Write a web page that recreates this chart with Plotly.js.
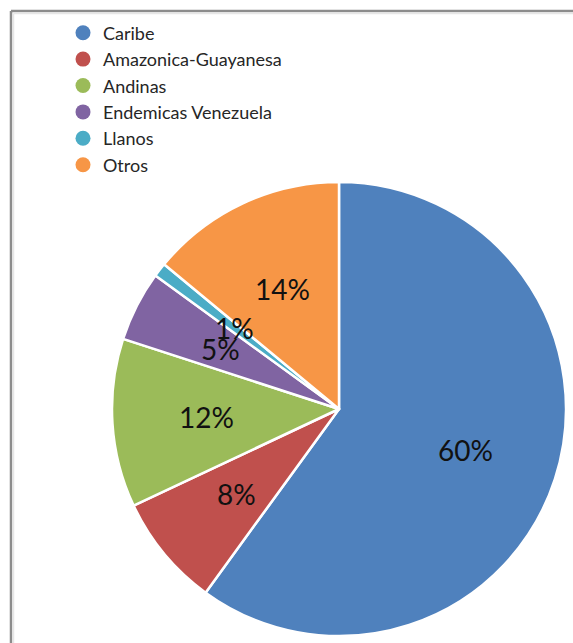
<!DOCTYPE html>
<html>
<head>
<meta charset="utf-8">
<script src="https://cdn.plot.ly/plotly-3.0.1.min.js"></script>
<style>html,body{margin:0;padding:0;background:#fff;}#chart{width:573px;height:643px;}</style>
</head>
<body>
<div id="chart"></div>
<script>
const categories = ["Caribe", "Amazonica-Guayanesa", "Andinas", "Endemicas Venezuela", "Llanos", "Otros"];
const values = [60, 8, 12, 5, 1, 14];
const colors = ["#4F81BD", "#C0504D", "#9BBB59", "#8064A2", "#4BACC6", "#F79646"];

const W = 573, H = 643;
const dom = {x: [112 / W, 566 / W], y: [7 / H, 461 / H]};

const pie = {
  type: "pie",
  labels: categories,
  values: values,
  sort: false,
  direction: "clockwise",
  rotation: 0,
  marker: {colors: colors, line: {color: "#ffffff", width: 2.5}},
  textinfo: "none",
  hoverinfo: "label+percent",
  showlegend: false,
  domain: dom
};

const legendTraces = categories.map((c, i) => ({
  type: "scatter",
  mode: "markers",
  x: [null], y: [null],
  name: c,
  legendgroup: "g" + i,
  marker: {color: colors[i], size: 15, symbol: "circle"},
  hoverinfo: "skip"
}));

// percent labels placed along each slice's mid-angle (computed from the values)
const total = values.reduce((a, b) => a + b, 0);
const cxPx = (dom.x[0] + dom.x[1]) / 2 * W;
const cyPx = (1 - (dom.y[0] + dom.y[1]) / 2) * H;
const R = Math.min((dom.x[1] - dom.x[0]) * W, (dom.y[1] - dom.y[0]) * H) / 2;
let cum = 0;
const annotations = values.map((v) => {
  const mid = (cum + v / 2) / total * 2 * Math.PI;
  cum += v;
  const rr = R * 0.585;
  const px = cxPx + rr * Math.sin(mid);
  const py = cyPx - rr * Math.cos(mid);
  return {
    xref: "paper", yref: "paper",
    x: px / W, y: 1 - py / H,
    text: Math.round(v / total * 100) + "%",
    showarrow: false,
    xanchor: "center", yanchor: "middle",
    font: {family: "Lato, 'Open Sans', sans-serif", size: 28, color: "#111111"}
  };
});

const layout = {
  width: W, height: H,
  margin: {l: 0, r: 0, t: 0, b: 0},
  paper_bgcolor: "#ffffff",
  plot_bgcolor: "rgba(0,0,0,0)",
  xaxis: {visible: false, domain: [0, 0.01]},
  yaxis: {visible: false, domain: [0, 0.01]},
  showlegend: true,
  legend: {
    x: 63 / W, y: 1 - 14.5 / H,
    xanchor: "left", yanchor: "top",
    bgcolor: "rgba(0,0,0,0)",
    font: {family: "Lato, 'Open Sans', sans-serif", size: 18, color: "#262626"},
    tracegroupgap: 0,
    itemsizing: "trace"
  },
  annotations: annotations,
  shapes: [
    {type: "line", xref: "paper", yref: "paper", x0: 11 / W, x1: 1, y0: 1 - 11 / H, y1: 1 - 11 / H, line: {color: "#8c8c8c", width: 2.5}},
    {type: "line", xref: "paper", yref: "paper", x0: 11 / W, x1: 11 / W, y0: 1 - 11 / H, y1: 0, line: {color: "#8c8c8c", width: 2.5}},
    {type: "line", xref: "paper", yref: "paper", x0: 13.5 / W, x1: 1, y0: 1 - 13.5 / H, y1: 1 - 13.5 / H, line: {color: "#e6e6e6", width: 1.5}},
    {type: "line", xref: "paper", yref: "paper", x0: 13.5 / W, x1: 13.5 / W, y0: 1 - 13.5 / H, y1: 0, line: {color: "#e6e6e6", width: 1.5}}
  ]
};

Plotly.newPlot("chart", [pie].concat(legendTraces), layout, {displayModeBar: false, staticPlot: true});
</script>
</body>
</html>
